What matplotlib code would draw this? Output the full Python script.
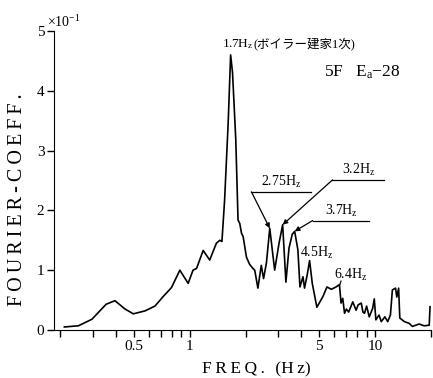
import matplotlib
matplotlib.use("Agg")
import matplotlib.pyplot as plt
from matplotlib.ticker import FixedLocator, NullFormatter

plt.rcParams["font.family"] = ["Liberation Serif", "Noto Sans CJK JP"]
plt.rcParams["mathtext.fontset"] = "custom"
plt.rcParams["mathtext.rm"] = "Liberation Serif"
plt.rcParams["mathtext.it"] = "Liberation Serif"

# Fourier spectrum (units of 1e-1)
freq = [0.21, 0.228, 0.25, 0.296, 0.353, 0.394, 0.447, 0.495, 0.573, 0.648,
        0.718, 0.796, 0.883, 0.979, 1.04, 1.087, 1.18, 1.28, 1.39, 1.45,
        1.49, 1.54, 1.61, 1.66, 1.70, 1.77, 1.82, 1.86, 1.90, 1.94,
        2.02, 2.10, 2.15, 2.19, 2.24, 2.33, 2.43, 2.50, 2.59, 2.70,
        2.87, 3.03, 3.17, 3.30, 3.43, 3.57, 3.68, 3.83, 3.93, 4.08,
        4.16, 4.30, 4.43, 4.58, 4.85, 5.23, 5.5, 5.8, 6.16, 6.42,
        6.55, 6.69, 6.84, 7.0, 7.2, 7.58, 7.9, 8.1, 8.42, 8.6,
        8.77, 9.0, 9.3, 9.7, 9.9, 10.1, 10.5, 10.8, 11.3, 11.7,
        12.1, 12.4, 12.9, 13.1, 13.4, 13.6, 14.4, 15.3, 15.9, 17.3,
        18.4, 19.6, 19.8]
coeff = [0.05, 0.06, 0.07, 0.18, 0.43, 0.49, 0.35, 0.27, 0.32, 0.40,
         0.56, 0.71, 1.00, 0.78, 1.00, 1.03, 1.33, 1.17, 1.45, 1.50,
         1.48, 2.17, 3.46, 4.60, 4.30, 3.18, 1.84, 1.78, 1.62, 1.56,
         1.22, 1.10, 1.06, 1.03, 1.00, 0.70, 1.08, 0.86, 1.12, 1.70,
         1.00, 1.45, 1.76, 0.80, 1.37, 1.60, 1.65, 1.34, 0.72, 0.89,
         0.70, 0.92, 1.16, 0.78, 0.38, 0.56, 0.72, 0.68, 0.72, 0.76,
         0.45, 0.53, 0.28, 0.35, 0.30, 0.47, 0.33, 0.42, 0.45, 0.30,
         0.28, 0.40, 0.22, 0.36, 0.52, 0.17, 0.25, 0.14, 0.22, 0.14,
         0.25, 0.67, 0.70, 0.55, 0.70, 0.20, 0.14, 0.11, 0.06, 0.10,
         0.07, 0.08, 0.39]

major_ticks = [0.5, 1, 5, 10]
major_labels = ["0.5", "1", "5", "10"]
minor_ticks = [0.2, 0.3, 0.4, 0.6, 0.7, 0.8, 0.9, 2, 3, 4, 6, 7, 8, 9, 20]
y_ticks = [0, 1, 2, 3, 4, 5]

fig = plt.figure(figsize=(4.33, 3.78), dpi=100)
ax = fig.add_axes([0.125, 0.127, 0.87, 0.791])
ax.plot(freq, coeff, color="black", lw=1.2)

ax.set_xscale("log")
ax.set_xlim(0.185, 20)
ax.set_ylim(0, 5)
ax.xaxis.set_major_locator(FixedLocator(major_ticks))
ax.set_xticklabels(major_labels)
ax.xaxis.set_minor_locator(FixedLocator(minor_ticks))
ax.xaxis.set_minor_formatter(NullFormatter())
ax.set_yticks(y_ticks)
ax.tick_params(axis="both", which="both", direction="out", length=5, width=1,
               labelsize=11, pad=2)
for s in ["top", "right"]:
    ax.spines[s].set_visible(False)

ts = "\u2009"
ax.set_xlabel(ts.join("FREQ.") + ts * 3 + "(H" + ts + "z)", fontsize=12.5)
ax.xaxis.set_label_coords(0.536, -0.105)
ax.set_ylabel(ts.join("FOURIER-COEFF."), fontsize=14.5)
ax.yaxis.set_label_coords(-0.072, 0.435)
ax.text(-0.019, 1.005, r"$\times10^{-1}$", transform=ax.transAxes, fontsize=10,
        va="bottom", ha="left")

# peak labels
ax.text(1.49, 4.78, r"1.7H$_\mathrm{z}$", fontsize=9.5, va="center", ha="left")
ax.text(2.2, 4.78, "(ボイラー建家1次)", fontsize=9, va="center", ha="left")
ax.text(5.33, 4.31, r"5F   E$_\mathrm{a}$$-$28", fontsize=12.5, va="center", ha="left")

arrow = dict(arrowstyle="-|>", color="black", lw=0.9, mutation_scale=7,
             shrinkA=0, shrinkB=0)
callouts = [
    (r"2.75H$_\mathrm{z}$", (2.70, 1.70), 2.15, 4.52, 2.31),
    (r"3.2H$_\mathrm{z}$", (3.17, 1.76), 5.89, 11.2, 2.51),
    (r"3.7H$_\mathrm{z}$", (3.68, 1.65), 4.60, 9.31, 1.83),
]
for label, tip, x0, x1, yl in callouts:
    ax.plot([x0, x1], [yl, yl], color="black", lw=0.9)
    ax.annotate("", xy=tip, xytext=(x0, yl), arrowprops=arrow)
    ax.text((x0 * x1) ** 0.5, yl + 0.03, label, fontsize=10, ha="center", va="bottom")

ax.text(4.83, 1.29, r"4.5H$_\mathrm{z}$", fontsize=10, ha="center", va="center")
ax.text(7.36, 0.92, r"6.4H$_\mathrm{z}$", fontsize=10, ha="center", va="center")
ax.plot([6.55, 6.42], [0.82, 0.74], color="black", lw=0.8)

fig.savefig("out.png", dpi=100)
